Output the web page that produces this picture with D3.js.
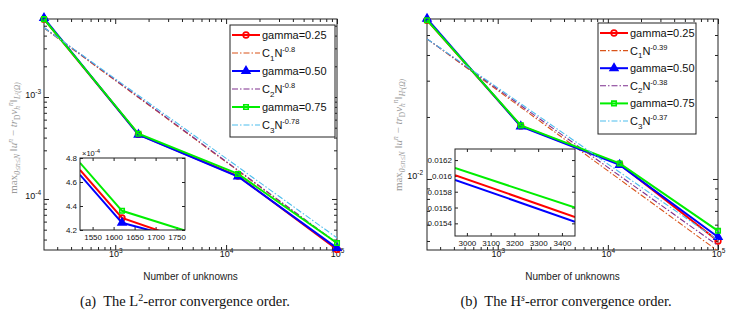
<!DOCTYPE html>
<html>
<head>
<meta charset="utf-8">
<script src="https://cdn.jsdelivr.net/npm/d3@7"></script>
<style>
  body { margin: 0; background: #fff; }
  svg { display: block; }
</style>
</head>
<body>
<svg id="chart" width="732" height="317"></svg>
<script>
// number of unknowns, shared by both panels
const unknowns = [228, 1620, 12800, 100000];

// panel (a): L2 error
const l2Gamma25 = [5.8e-3, 4.30e-4, 1.68e-4, 3.2e-5];
const l2Gamma50 = [5.95e-3, 4.27e-4, 1.66e-4, 3.3e-5];
const l2Gamma75 = [5.8e-3, 4.36e-4, 1.76e-4, 3.7e-5];
const l2FitC = [0.365, 0.37, 0.33];
const l2FitP = [-0.8, -0.8, -0.78];
// zoomed inset of (a)
const l2InsetN = [1520, 1620, 1770];
const l2Inset25 = [4.70e-4, 4.30e-4, 4.12e-4];
const l2Inset50 = [4.66e-4, 4.26e-4, 4.12e-4];
const l2Inset75 = [4.76e-4, 4.36e-4, 4.195e-4];

// panel (b): Hs error
const hsGamma25 = [0.0590, 0.0181, 0.0118, 0.0050];
const hsGamma50 = [0.0600, 0.0180, 0.0117, 0.00523];
const hsGamma75 = [0.0590, 0.0182, 0.0119, 0.0056];
const hsFitC = [0.398, 0.377, 0.357];
const hsFitP = [-0.39, -0.38, -0.37];
// zoomed inset of (b)
const hsInsetN = [2950, 3455];
const hsInset25 = [0.01601, 0.01548];
const hsInset50 = [0.01595, 0.01542];
const hsInset75 = [0.01610, 0.01560];

const gammaLabels = ['gamma=0.25', 'gamma=0.50', 'gamma=0.75'];
const xMajorTicks = [1e3, 1e4, 1e5];

const gammaColors = ['#ff0000', '#0000ff', '#00ee00'];
const fitColors = ['#d95319', '#7e2f8e', '#4dbeee'];
const markers = [d3.symbolCircle, d3.symbolTriangle, d3.symbolSquare];
const markerSizes = [26, 26, 20];
const sans = 'Liberation Sans, Arial, sans-serif';
const serif = 'Liberation Serif, Times New Roman, serif';

const svg = d3.select('#chart');

// text made of pieces shifted up/down (sub and superscripts)
function rich(text, parts) {
  let cur = 0;
  parts.forEach((p) => {
    const shift = p.shift || 0;
    const t = text.append('tspan').text(p.t).attr('dy', shift - cur);
    if (p.size) t.attr('font-size', p.size);
    if (p.it) t.attr('font-style', 'italic');
    if (p.dx) t.attr('dx', p.dx);
    cur = shift;
  });
}

function inwardAxis(g, axisFn, scale, values, size, pad, fmt) {
  const ax = axisFn(scale)
    .tickValues(values)
    .tickSizeInner(-size)
    .tickSizeOuter(0)
    .tickPadding(pad)
    .tickFormat(fmt || '');
  g.call(ax);
  g.select('.domain').remove();
  g.selectAll('.tick line').attr('stroke', '#222');
  return g;
}

function powLabels(g, size, supSize) {
  g.selectAll('.tick text').each(function (d) {
    const t = d3.select(this).text(null)
      .attr('font-family', sans).attr('font-size', size).attr('fill', '#111');
    rich(t, [{ t: '10' }, { t: String(Math.round(Math.log10(d))), size: supSize, shift: -4 }]);
  });
}

function drawPanel(p) {
  const w = p.right - p.left;
  const h = p.bottom - p.top;
  const x = d3.scaleLog().domain([unknowns[0], unknowns[3]]).range([0, w]);
  const y = d3.scaleLog().domain(p.yDomain).range([h, 0]);
  const g = svg.append('g').attr('transform', `translate(${p.left},${p.top})`);

  const clipId = 'clip-' + p.id;
  g.append('clipPath').attr('id', clipId)
    .append('rect').attr('width', w).attr('height', h);

  // ticks: majors and minors on all four sides, pointing inward
  const xMinor = x.ticks().filter((v) => !xMajorTicks.includes(v));
  const yMinor = y.ticks().filter((v) => !p.yMajors.includes(v));
  const bx = inwardAxis(g.append('g').attr('transform', `translate(0,${h})`),
    d3.axisBottom, x, xMajorTicks, 5, 7, (d) => d);
  powLabels(bx, 9, 6.5);
  inwardAxis(g.append('g').attr('transform', `translate(0,${h})`), d3.axisBottom, x, xMinor, 3, 0);
  inwardAxis(g.append('g'), d3.axisTop, x, xMajorTicks, 5, 0);
  inwardAxis(g.append('g'), d3.axisTop, x, xMinor, 3, 0);
  const ly = inwardAxis(g.append('g'), d3.axisLeft, y, p.yMajors, 5, p.yPad, (d) => d);
  powLabels(ly, 9, 6.5);
  ly.selectAll('.tick text').attr('dy', '0.5em');
  inwardAxis(g.append('g'), d3.axisLeft, y, yMinor, 3, 0);
  inwardAxis(g.append('g').attr('transform', `translate(${w},0)`), d3.axisRight, y, p.yMajors, 5, 0);
  inwardAxis(g.append('g').attr('transform', `translate(${w},0)`), d3.axisRight, y, yMinor, 3, 0);

  g.append('rect').attr('width', w).attr('height', h)
    .attr('fill', 'none').attr('stroke', '#222').attr('stroke-width', 1);

  const line = d3.line().x((d) => x(d[0])).y((d) => y(d[1]));
  const plot = g.append('g');

  p.series.forEach((vals, i) => {
    const pts = unknowns.map((n, k) => [n, vals[k]]);
    plot.append('path').datum(pts)
      .attr('d', line).attr('fill', 'none')
      .attr('stroke', gammaColors[i]).attr('stroke-width', 2);
    plot.selectAll(null).data(pts).join('path')
      .attr('transform', (d) => `translate(${x(d[0])},${y(d[1])})`)
      .attr('d', d3.symbol(markers[i], markerSizes[i]))
      .attr('fill', i === 1 ? gammaColors[i] : 'none')
      .attr('stroke', gammaColors[i]).attr('stroke-width', 1.6);

    const fitPts = unknowns.map((n) => [n, p.fitC[i] * Math.pow(n, p.fitP[i])]);
    plot.append('path').datum(fitPts)
      .attr('clip-path', `url(#${clipId})`)
      .attr('d', line).attr('fill', 'none')
      .attr('stroke', fitColors[i]).attr('stroke-width', 1.1)
      .attr('stroke-dasharray', '6,2,1.5,2');
  });

  // x label
  g.append('text').attr('x', w / 2).attr('y', p.xLabelY - p.top)
    .attr('text-anchor', 'middle').attr('font-family', sans)
    .attr('font-size', 10).attr('fill', '#222').text('Number of unknowns');

  // y label
  const yl = svg.append('text')
    .attr('transform', `translate(${p.yLabelX},${p.yLabelY}) rotate(-90)`)
    .attr('text-anchor', 'middle').attr('font-family', serif)
    .attr('font-size', 11).attr('fill', '#9a9a9a');
  rich(yl, [
    { t: 'max' },
    { t: '0≤n≤N', size: 7.5, shift: 3, it: true },
    { t: ' ‖' },
    { t: 'u', it: true },
    { t: 'n', size: 7.5, shift: -4, it: true },
    { t: ' − ' },
    { t: 'tr', it: true },
    { t: 'D', size: 7.5, shift: 3 },
    { t: 'v', it: true },
    { t: 'h', size: 7.5, shift: 3, it: true },
    { t: 'n', size: 7.5, shift: -4, it: true },
    { t: '‖' },
    { t: p.norm, size: 7.5, shift: 3, it: true },
  ]);

  drawLegend(p.legend, p.fitLabels);
  drawInset(p.inset);

  // caption
  const cap = svg.append('text').attr('x', p.captionX).attr('y', 306)
    .attr('text-anchor', 'middle').attr('font-family', serif)
    .attr('font-size', 14.5).attr('fill', '#111');
  rich(cap, p.caption);
}

function drawLegend(L, fitLabels) {
  const g = svg.append('g').attr('transform', `translate(${L.x},${L.y})`);
  g.append('rect').attr('width', L.w).attr('height', L.h)
    .attr('fill', '#fff').attr('stroke', '#222').attr('stroke-width', 1);
  gammaLabels.forEach((lab, i) => {
    const yg = L.first + 2 * i * L.row;
    const yf = yg + L.row;
    g.append('line').attr('x1', 2).attr('x2', 30).attr('y1', yg).attr('y2', yg)
      .attr('stroke', gammaColors[i]).attr('stroke-width', 2);
    g.append('path').attr('transform', `translate(16,${yg})`)
      .attr('d', d3.symbol(markers[i], markerSizes[i]))
      .attr('fill', i === 1 ? gammaColors[i] : 'none')
      .attr('stroke', gammaColors[i]).attr('stroke-width', 1.6);
    g.append('text').attr('x', 32).attr('y', yg + 4)
      .attr('font-family', sans).attr('font-size', 11).attr('fill', '#111').text(lab);

    g.append('line').attr('x1', 2).attr('x2', 30).attr('y1', yf).attr('y2', yf)
      .attr('stroke', fitColors[i]).attr('stroke-width', 1.1)
      .attr('stroke-dasharray', '6,2,1.5,2');
    const t = g.append('text').attr('x', 32).attr('y', yf + 4)
      .attr('font-family', sans).attr('font-size', 11).attr('fill', '#111');
    rich(t, [
      { t: 'C' },
      { t: String(i + 1), size: 8, shift: 3.5 },
      { t: 'N' },
      { t: fitLabels[i], size: 7.5, shift: -5 },
    ]);
  });
}

function drawInset(I) {
  const g = svg.append('g').attr('transform', `translate(${I.x},${I.y})`);
  const x = d3.scaleLinear().domain(I.xDomain).range([0, I.w]);
  const y = d3.scaleLinear().domain(I.yDomain).range([I.h, 0]);
  const clipId = 'clip-inset-' + I.id;
  g.append('rect').attr('width', I.w).attr('height', I.h).attr('fill', '#fff');
  g.append('clipPath').attr('id', clipId)
    .append('rect').attr('width', I.w).attr('height', I.h);

  const bx = inwardAxis(g.append('g').attr('transform', `translate(0,${I.h})`),
    d3.axisBottom, x, I.xTicks, 3, 4, (d) => d);
  inwardAxis(g.append('g'), d3.axisTop, x, I.xTicks, 3, 0);
  const ly = inwardAxis(g.append('g'), d3.axisLeft, y, I.yTicks, 3, 3, I.yFmt);
  inwardAxis(g.append('g').attr('transform', `translate(${I.w},0)`), d3.axisRight, y, I.yTicks, 3, 0);
  [bx, ly].forEach((a) => a.selectAll('.tick text')
    .attr('font-family', sans).attr('font-size', 8).attr('fill', '#111'));

  const line = d3.line().x((d) => x(d[0])).y((d) => y(d[1]));
  I.series.forEach((vals, i) => {
    const pts = I.n.map((n, k) => [n, vals[k]]);
    g.append('path').datum(pts).attr('clip-path', `url(#${clipId})`)
      .attr('d', line).attr('fill', 'none')
      .attr('stroke', gammaColors[i]).attr('stroke-width', 2);
    if (I.markers) {
      const k = I.n.indexOf(I.markerAt);
      g.append('path').attr('transform', `translate(${x(I.n[k])},${y(vals[k])})`)
        .attr('d', d3.symbol(markers[i], markerSizes[i]))
        .attr('fill', i === 1 ? gammaColors[i] : 'none')
        .attr('stroke', gammaColors[i]).attr('stroke-width', 1.6);
    }
  });

  g.append('rect').attr('width', I.w).attr('height', I.h)
    .attr('fill', 'none').attr('stroke', '#222').attr('stroke-width', 1);

  if (I.note) {
    const t = g.append('text').attr('x', 2).attr('y', -2)
      .attr('font-family', sans).attr('font-size', 7.5).attr('fill', '#111');
    rich(t, [{ t: '×10' }, { t: I.note, size: 6, shift: -3 }]);
  }
}

drawPanel({
  id: 'a', left: 44, right: 337, top: 19, bottom: 250,
  yDomain: [3.16e-5, 5.82e-3], yMajors: [1e-4, 1e-3], yPad: 3,
  series: [l2Gamma25, l2Gamma50, l2Gamma75],
  fitC: l2FitC, fitP: l2FitP, fitLabels: ['-0.8', '-0.8', '-0.78'],
  xLabelY: 280, yLabelX: 17, yLabelY: 138, norm: 'L²(Ω)',
  legend: { x: 230, y: 25, w: 105, h: 112, first: 10, row: 18 },
  inset: {
    id: 'a', x: 80, y: 158, w: 105, h: 72,
    xDomain: [1520, 1770], yDomain: [4.2e-4, 4.8e-4],
    xTicks: [1550, 1600, 1650, 1700, 1750],
    yTicks: [4.2e-4, 4.4e-4, 4.6e-4, 4.8e-4],
    yFmt: (d) => (d * 1e4).toFixed(1),
    n: l2InsetN, series: [l2Inset25, l2Inset50, l2Inset75],
    markers: true, markerAt: 1620, note: '-4',
  },
  captionX: 185,
  caption: [
    { t: '(a)' }, { t: 'The L', dx: 7 }, { t: '2', size: 10, shift: -5 },
    { t: '-error convergence order.' },
  ],
});

drawPanel({
  id: 'b', left: 427, right: 718, top: 19, bottom: 250,
  yDomain: [0.00452, 0.0598], yMajors: [1e-2], yPad: 4,
  series: [hsGamma25, hsGamma50, hsGamma75],
  fitC: hsFitC, fitP: hsFitP, fitLabels: ['-0.39', '-0.38', '-0.37'],
  xLabelY: 280, yLabelX: 402, yLabelY: 135, norm: 'Hˢ(Ω)',
  legend: { x: 598, y: 23, w: 98, h: 111, first: 10, row: 17.6 },
  inset: {
    id: 'b', x: 455, y: 149, w: 120, h: 87,
    xDomain: [2950, 3455], yDomain: [0.01524, 0.01634],
    xTicks: [3000, 3100, 3200, 3300, 3400],
    yTicks: [0.0154, 0.0156, 0.0158, 0.016, 0.0162],
    yFmt: (d) => String(+d.toFixed(4)),
    n: hsInsetN, series: [hsInset25, hsInset50, hsInset75],
    markers: false,
  },
  captionX: 566,
  caption: [
    { t: '(b)' }, { t: 'The H', dx: 7 }, { t: 's', size: 10, shift: -5, it: true },
    { t: '-error convergence order.' },
  ],
});
</script>
</body>
</html>
